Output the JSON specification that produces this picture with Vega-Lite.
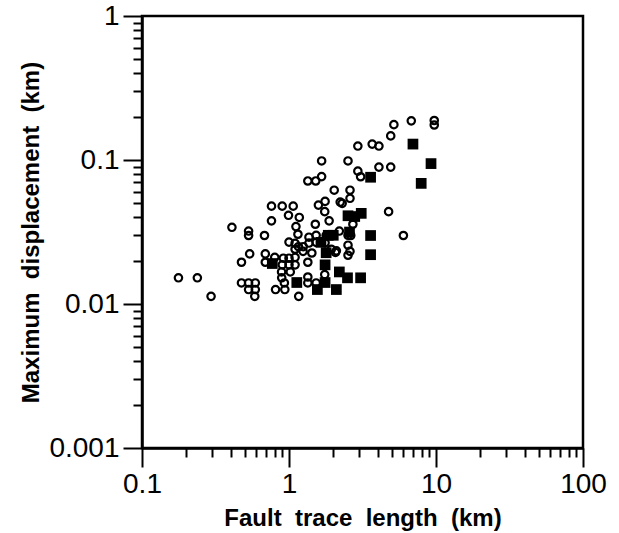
{
  "$schema": "https://vega.github.io/schema/vega-lite/v6.json",
  "autosize": "none",
  "width": 441,
  "height": 432,
  "padding": {"left": 142, "top": 16, "right": 36, "bottom": 85},
  "background": "white",
  "config": {
    "view": {"stroke": "black", "strokeWidth": 2.5},
    "font": "Liberation Sans"
  },
  "datasets": {
    "open": [
      {"L":0.177,"D":0.0152},{"L":0.238,"D":0.0152},{"L":0.295,"D":0.0113},{"L":0.409,"D":0.0341},
      {"L":0.531,"D":0.0321},{"L":0.531,"D":0.0299},{"L":0.54,"D":0.0223},{"L":0.475,"D":0.0195},
      {"L":0.475,"D":0.014},{"L":0.531,"D":0.014},{"L":0.59,"D":0.014},{"L":0.531,"D":0.0126},
      {"L":0.59,"D":0.0126},{"L":0.585,"D":0.0113},{"L":0.681,"D":0.0299},{"L":0.69,"D":0.0223},
      {"L":0.69,"D":0.0195},{"L":0.76,"D":0.0478},{"L":0.899,"D":0.0478},{"L":1.068,"D":0.0478},
      {"L":0.76,"D":0.0378},{"L":0.992,"D":0.0413},{"L":1.175,"D":0.0399},{"L":1.115,"D":0.0345},
      {"L":1.343,"D":0.0715},{"L":1.52,"D":0.0715},{"L":1.667,"D":0.0767},{"L":1.667,"D":0.0985},
      {"L":2.03,"D":0.0617},{"L":1.585,"D":0.0486},{"L":1.76,"D":0.0516},{"L":1.75,"D":0.0438},
      {"L":1.875,"D":0.0378},{"L":1.51,"D":0.0358},{"L":1.367,"D":0.0291},{"L":1.53,"D":0.03},
      {"L":1.79,"D":0.0299},{"L":1.76,"D":0.0266},{"L":1.53,"D":0.0268},{"L":1.367,"D":0.0265},
      {"L":1.247,"D":0.0232},{"L":1.343,"D":0.0195},{"L":1.343,"D":0.0154},{"L":1.343,"D":0.014},
      {"L":1.53,"D":0.014},{"L":1.164,"D":0.0113},{"L":0.937,"D":0.0126},{"L":0.81,"D":0.0126},
      {"L":0.892,"D":0.0152},{"L":0.93,"D":0.014},{"L":0.8,"D":0.0211},{"L":0.915,"D":0.0208},
      {"L":1.0,"D":0.0208},{"L":1.1,"D":0.0211},{"L":0.9,"D":0.0187},{"L":1.0,"D":0.0187},
      {"L":1.1,"D":0.0187},{"L":0.89,"D":0.0167},{"L":1.02,"D":0.0167},{"L":1.0,"D":0.0269},
      {"L":1.1,"D":0.0264},{"L":1.16,"D":0.025},{"L":1.1,"D":0.024},{"L":2.23,"D":0.051},
      {"L":2.52,"D":0.0985},{"L":2.6,"D":0.0617},{"L":2.6,"D":0.0542},{"L":2.3,"D":0.05},
      {"L":2.2,"D":0.0321},{"L":2.52,"D":0.03},{"L":2.63,"D":0.0299},{"L":2.07,"D":0.0228},
      {"L":2.1,"D":0.0234},{"L":2.52,"D":0.0256},{"L":2.52,"D":0.0218},{"L":2.6,"D":0.0232},
      {"L":2.72,"D":0.0358},{"L":2.94,"D":0.125},{"L":2.94,"D":0.0837},{"L":3.07,"D":0.0765},
      {"L":3.68,"D":0.129},{"L":4.09,"D":0.125},{"L":4.09,"D":0.0893},{"L":4.92,"D":0.147},
      {"L":5.17,"D":0.176},{"L":4.92,"D":0.0893},{"L":4.76,"D":0.0438},{"L":6.0,"D":0.0299},
      {"L":6.79,"D":0.187},{"L":9.73,"D":0.188},{"L":9.73,"D":0.175},{"L":1.75,"D":0.016},
      {"L":1.43,"D":0.0226},{"L":1.94,"D":0.024},{"L":1.15,"D":0.0305},{"L":1.25,"D":0.025}
    ],
    "filled": [
      {"L":6.97,"D":0.129},{"L":9.25,"D":0.0944},{"L":7.93,"D":0.0688},{"L":3.59,"D":0.0759},
      {"L":3.1,"D":0.0426},{"L":2.52,"D":0.041},{"L":2.8,"D":0.0405},{"L":3.59,"D":0.0299},
      {"L":3.59,"D":0.022},{"L":2.58,"D":0.0316},{"L":3.07,"D":0.0152},{"L":2.5,"D":0.0152},
      {"L":2.2,"D":0.0167},{"L":2.1,"D":0.0126},{"L":1.76,"D":0.0141},{"L":1.56,"D":0.0126},
      {"L":1.76,"D":0.0187},{"L":1.79,"D":0.0227},{"L":1.85,"D":0.03},{"L":2.0,"D":0.03},
      {"L":1.13,"D":0.0141},{"L":0.77,"D":0.0191},{"L":1.65,"D":0.0268}
    ]
  },
  "encoding": {
    "x": {
      "field": "L", "type": "quantitative",
      "scale": {"type": "log", "domain": [0.1, 100], "nice": false},
      "axis": {
        "title": "Fault\u00a0 trace\u00a0 length\u00a0 (km)",
        "titleFont": "Liberation Sans", "titleFontSize": 24, "titleFontWeight": "bold", "titleColor": "black",
        "titlePadding": 8,
        "values": [0.1,0.2,0.3,0.4,0.5,0.6,0.7,0.8,0.9,1,2,3,4,5,6,7,8,9,10,20,30,40,50,60,70,80,90,100],
        "labelExpr": "indexof([0.1,1,10,100], datum.value) >= 0 ? toString(datum.value) : ''",
        "labelFontSize": 28, "labelColor": "black", "labelPadding": 3, "labelOverlap": false, "labelFlush": false,
        "tickSize": {"condition": {"test": "indexof([0.1,1,10,100], datum.value) >= 0", "value": 19}, "value": 9},
        "tickWidth": 2, "tickColor": "black",
        "domainColor": "black", "domainWidth": 2.5,
        "grid": false
      }
    },
    "y": {
      "field": "D", "type": "quantitative",
      "scale": {"type": "log", "domain": [0.001, 1], "nice": false},
      "axis": {
        "title": "Maximum\u00a0 displacement\u00a0 (km)",
        "titleFont": "Liberation Sans", "titleFontSize": 24, "titleFontWeight": "bold", "titleColor": "black",
        "titlePadding": 5,
        "values": [0.001,0.002,0.003,0.004,0.005,0.006,0.007,0.008,0.009,0.01,0.02,0.03,0.04,0.05,0.06,0.07,0.08,0.09,0.1,0.2,0.3,0.4,0.5,0.6,0.7,0.8,0.9,1],
        "labelExpr": "indexof([0.001,0.01,0.1,1], datum.value) >= 0 ? toString(datum.value) : ''",
        "labelFontSize": 28, "labelColor": "black", "labelPadding": 4, "labelOverlap": false, "labelFlush": false,
        "tickSize": {"condition": {"test": "indexof([0.001,0.01,0.1,1], datum.value) >= 0", "value": 19}, "value": 9},
        "tickWidth": 2, "tickColor": "black",
        "domainColor": "black", "domainWidth": 2.5,
        "grid": false
      }
    }
  },
  "layer": [
    {
      "data": {"name": "open"},
      "mark": {"type": "point", "shape": "circle", "filled": false, "stroke": "black", "strokeWidth": 2.2, "size": 55, "opacity": 1}
    },
    {
      "data": {"name": "filled"},
      "mark": {"type": "square", "filled": true, "color": "black", "size": 115, "opacity": 1}
    }
  ]
}
